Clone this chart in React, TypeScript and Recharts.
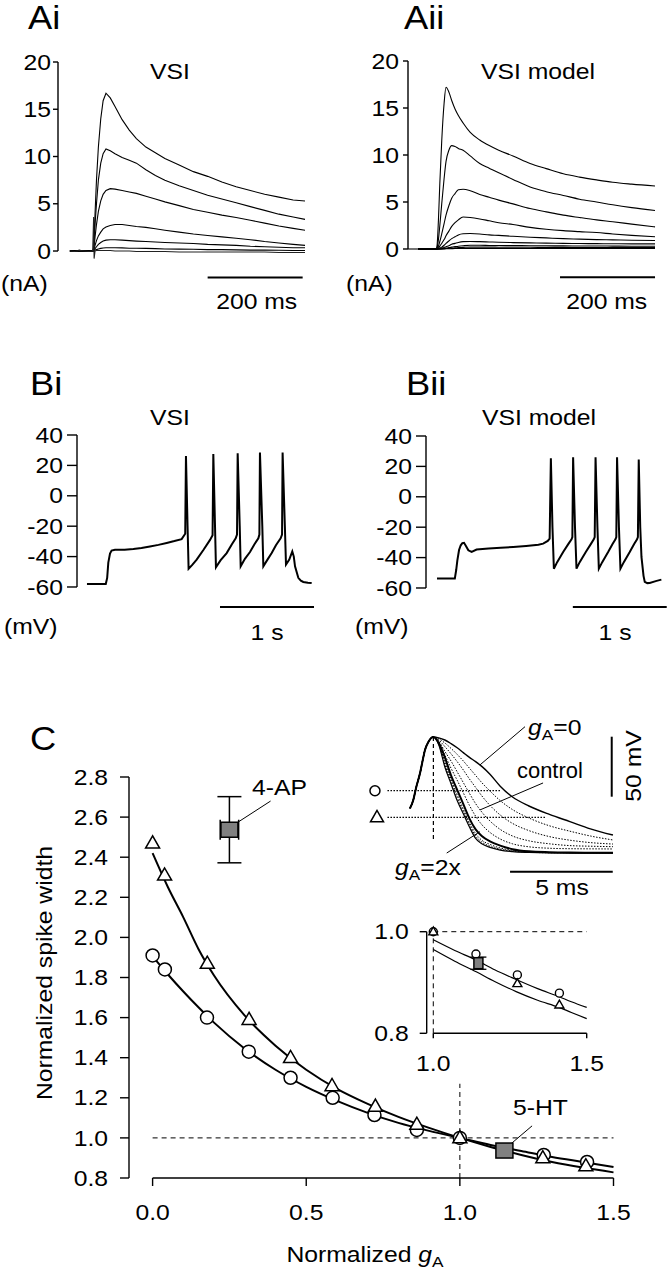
import React from 'react';
import { ComposedChart, Line, XAxis, YAxis, ReferenceLine, Scatter, ErrorBar } from 'recharts';

const FONT = '"Liberation Sans", Arial, Helvetica, sans-serif';
const K = '#000';
const FS = 21.5;
const SX = 1.15;

// ---------------- Panel Ai : VSI recorded currents (nA) vs time (ms)
const tAi = [0, 10, 20, 30, 40, 48, 50, 51, 53, 56, 60, 65, 70, 76, 85, 95, 110, 125, 140, 160, 180, 200, 230, 260, 290, 320, 350, 380, 410, 440, 470, 495];
const ai1 = [0.05, -0.05, 0.1, -0.05, 0.05, 0, 0.3, 1.5, 4, 7.5, 11, 14, 15.9, 16.7, 16.2, 15.3, 13.9, 12.8, 11.9, 11.0, 10.4, 9.8, 9.1, 8.4, 7.9, 7.3, 6.8, 6.4, 6.0, 5.7, 5.4, 5.3];
const ai2 = [0, 0.05, -0.05, 0.05, 0, -0.05, 0.2, 1, 2.8, 5, 7.5, 9.3, 10.3, 10.8, 10.6, 10.3, 9.9, 9.6, 9.3, 8.6, 8.0, 7.5, 6.9, 6.4, 5.9, 5.5, 5.1, 4.7, 4.3, 3.9, 3.6, 3.35];
const ai3 = [-0.05, 0.05, 0, -0.05, 0.05, 0, 0.1, 0.5, 1.5, 2.8, 4.2, 5.3, 6.0, 6.4, 6.6, 6.55, 6.4, 6.25, 6.1, 5.8, 5.5, 5.2, 4.8, 4.4, 4.1, 3.8, 3.55, 3.25, 2.95, 2.65, 2.4, 2.2];
const ai4 = [0.05, -0.05, 0.05, 0, -0.05, 0, 0, 0.2, 0.6, 1.1, 1.6, 2.0, 2.35, 2.55, 2.7, 2.8, 2.8, 2.7, 2.6, 2.5, 2.35, 2.2, 2.0, 1.8, 1.65, 1.5, 1.35, 1.2, 1.0, 0.85, 0.7, 0.6];
const ai5 = [0, 0.05, -0.05, 0.05, 0, 0, 0, 0.1, 0.25, 0.45, 0.7, 0.9, 1.05, 1.15, 1.2, 1.2, 1.15, 1.1, 1.05, 1.0, 0.95, 0.9, 0.85, 0.8, 0.7, 0.65, 0.6, 0.5, 0.45, 0.4, 0.35, 0.35];
const ai6 = [-0.05, 0, 0.05, -0.05, 0.05, 0, 0, 0.05, 0.1, 0.15, 0.22, 0.28, 0.32, 0.35, 0.35, 0.35, 0.33, 0.3, 0.3, 0.28, 0.25, 0.22, 0.2, 0.18, 0.15, 0.15, 0.12, 0.1, 0.1, 0.08, 0.05, 0.05];
const ai7 = [0, -0.05, 0.05, 0, -0.05, 0, 3.6, -0.8, 0, 0.05, 0.05, 0.05, 0.05, 0.05, 0.05, 0, 0, 0, -0.05, -0.05, -0.05, -0.05, -0.1, -0.1, -0.1, -0.1, -0.1, -0.1, -0.1, -0.15, -0.15, -0.15];
const aiTraces = [ai1, ai2, ai3, ai4, ai5, ai6, ai7];
const aTicks = [0, 5, 10, 15, 20];

// ---------------- Panel Aii : VSI model currents (nA) vs time (ms)
const tAii = [0, 20, 38, 40, 43, 46, 50, 55, 59, 65, 71, 78, 85, 95, 110, 130, 150, 170, 200, 236, 270, 306, 340, 376, 410, 450, 499];
const aii1 = [0, 0, 0, 0.3, 3, 7, 11.5, 15.5, 17.2, 16.7, 15.8, 14.9, 14.2, 13.4, 12.4, 11.6, 11.0, 10.5, 9.9, 9.1, 8.55, 8.0, 7.65, 7.35, 7.1, 6.9, 6.7];
const aii2 = [0, 0, 0, 0.1, 1, 2.5, 4.8, 7.5, 9.3, 10.5, 11.0, 10.9, 10.7, 10.5, 9.9, 9.1, 8.6, 8.1, 7.4, 6.6, 6.1, 5.7, 5.3, 5.0, 4.7, 4.4, 4.1];
const aii3 = [0, 0, 0, 0.05, 0.3, 0.8, 1.6, 2.7, 3.6, 4.6, 5.4, 5.9, 6.3, 6.35, 6.2, 5.8, 5.5, 5.2, 4.8, 4.3, 3.95, 3.6, 3.35, 3.1, 2.9, 2.65, 2.35];
const aii4 = [0, 0, 0, 0, 0.1, 0.3, 0.6, 1.0, 1.4, 1.9, 2.4, 2.8, 3.1, 3.4, 3.35, 3.2, 3.0, 2.8, 2.6, 2.3, 2.1, 1.95, 1.85, 1.75, 1.6, 1.45, 1.3];
const aii5 = [0, 0, 0, 0, 0.05, 0.1, 0.2, 0.4, 0.6, 0.85, 1.1, 1.3, 1.5, 1.62, 1.65, 1.6, 1.5, 1.45, 1.35, 1.25, 1.18, 1.1, 1.05, 1.0, 0.97, 0.93, 0.9];
const aii6 = [0, 0, 0, 0, 0, 0.05, 0.1, 0.15, 0.25, 0.35, 0.5, 0.6, 0.7, 0.78, 0.8, 0.78, 0.75, 0.72, 0.68, 0.65, 0.62, 0.6, 0.58, 0.57, 0.56, 0.55, 0.55];
const aii7 = [0, 0, 0, 0, 0, 0, 0.03, 0.07, 0.1, 0.15, 0.2, 0.25, 0.3, 0.35, 0.4, 0.4, 0.38, 0.37, 0.36, 0.35, 0.34, 0.33, 0.32, 0.32, 0.31, 0.3, 0.3];
const aii8 = [0, 0, 0, 0, 0, 0, 0.01, 0.03, 0.05, 0.07, 0.1, 0.12, 0.15, 0.17, 0.2, 0.2, 0.2, 0.19, 0.18, 0.18, 0.17, 0.17, 0.16, 0.16, 0.15, 0.15, 0.15];
const aii9 = [0, 0, 0, 0, 0, 0, 0, 0.01, 0.02, 0.03, 0.04, 0.05, 0.05, 0.06, 0.06, 0.06, 0.06, 0.06, 0.06, 0.05, 0.05, 0.05, 0.05, 0.05, 0.05, 0.05, 0.05];
const aiiTraces = [aii1, aii2, aii3, aii4, aii5, aii6, aii7, aii8, aii9];

// ---------------- Panel Bi : VSI membrane potential (mV) vs time (s)
const tBi = [0, 0.2, 0.215, 0.227, 0.245, 0.262, 0.298, 0.4, 0.493, 0.58, 0.67, 0.76, 0.848, 0.93, 1.007, 1.045, 1.053, 1.07, 1.081, 1.12, 1.167, 1.24, 1.309, 1.336, 1.344, 1.362, 1.372, 1.42, 1.486, 1.54, 1.582, 1.596, 1.603, 1.625, 1.635, 1.68, 1.734, 1.78, 1.823, 1.834, 1.84, 1.865, 1.876, 1.92, 1.965, 2.01, 2.06, 2.075, 2.081, 2.105, 2.117, 2.152, 2.184, 2.2, 2.213, 2.248, 2.275, 2.301, 2.35, 2.39];
const vBi = [-58, -58, -54, -44, -38, -36, -35.5, -35.5, -35, -34.3, -33.3, -32.3, -31, -29.8, -28.5, -25, 26.2, -20, -48, -45.5, -42, -35.5, -29, -26, 27.5, -20, -47, -42.5, -37.7, -32, -28, -25.5, 28, -20, -46.4, -41.5, -37, -32, -28, -25.5, 28.4, -20, -46.4, -42, -37.7, -32.5, -28, -25.5, 28.4, -20, -45.3, -42, -36.6, -40, -46.4, -54, -55.8, -56.7, -57.2, -57.4];

// ---------------- Panel Bii : VSI model membrane potential (mV) vs time (s)
const tBii = [0, 0.19, 0.205, 0.217, 0.235, 0.253, 0.27, 0.288, 0.31, 0.334, 0.369, 0.422, 0.55, 0.68, 0.812, 0.95, 1.08, 1.131, 1.18, 1.2, 1.213, 1.23, 1.245, 1.28, 1.344, 1.4, 1.433, 1.442, 1.45, 1.47, 1.486, 1.52, 1.585, 1.64, 1.67, 1.68, 1.689, 1.709, 1.724, 1.76, 1.823, 1.87, 1.901, 1.91, 1.918, 1.938, 1.954, 1.99, 2.053, 2.1, 2.131, 2.14, 2.149, 2.165, 2.178, 2.2, 2.213, 2.24, 2.266, 2.33, 2.39];
const vBii = [-53.8, -53.8, -48, -41.8, -35, -31.9, -30.5, -30.3, -32.5, -35.2, -36.3, -34.7, -34, -33.5, -33, -32.3, -31.5, -30.8, -29, -27.5, 25.3, -20, -47.3, -43, -36.3, -31, -28, -26.5, 26, -20, -47.3, -43, -36.3, -31, -28, -26.5, 26, -20, -47.3, -43, -36.3, -31, -28, -26.5, 26, -20, -47.3, -43, -36.3, -31, -28, -26.5, 24.6, -20, -39.6, -52, -56, -56.8, -56.7, -55.5, -54.5];
const bTicks = [-60, -40, -20, 0, 20, 40];

// ---------------- Panel C : normalized spike width vs normalized gA
const fitX = [0, 0.05, 0.1, 0.15, 0.2, 0.3, 0.4, 0.5, 0.6, 0.7, 0.8, 0.9, 1.0, 1.1, 1.2, 1.3, 1.4, 1.5];
const fitCirc = [1.905, 1.815, 1.73, 1.65, 1.575, 1.445, 1.34, 1.255, 1.185, 1.125, 1.075, 1.035, 1.0, 0.965, 0.935, 0.905, 0.88, 0.855];
const fitTri = [2.42, 2.25, 2.1, 1.94, 1.81, 1.61, 1.46, 1.34, 1.245, 1.17, 1.105, 1.05, 1.0, 0.955, 0.915, 0.88, 0.852, 0.828];
const circX = [0.0, 0.04, 0.177, 0.313, 0.449, 0.586, 0.722, 0.86, 1.0, 1.273, 1.414];
const circY = [1.91, 1.84, 1.60, 1.43, 1.30, 1.20, 1.114, 1.04, 1.0, 0.915, 0.88];
const triX = [0.0, 0.039, 0.178, 0.314, 0.449, 0.584, 0.725, 0.86, 1.0, 1.27, 1.41];
const triY = [2.47, 2.31, 1.87, 1.59, 1.40, 1.26, 1.157, 1.067, 1.0, 0.90, 0.86];
const drugNames = ['4-AP', '5-HT'];
const drugX = [0.25, 1.145];
const drugY = [2.537, 0.937];
const drugErrY = [0.165, 0];
const drugErrX = [0.03, 0];
const cTicksY = [0.8, 1.0, 1.2, 1.4, 1.6, 1.8, 2.0, 2.2, 2.4, 2.6, 2.8];
const cTicksX = [0, 0.5, 1.0, 1.5];

// ---------------- Inset: model spike waveforms (mV vs ms)
const tW = [0, 0.16, 0.3, 0.49, 0.6, 0.73, 0.9, 1.14, 1.4, 1.7, 2.0, 2.3, 2.6, 2.9, 3.2, 3.5, 3.9, 4.4, 5.0, 5.8, 6.8, 7.8, 8.8, 9.9];
const wRise = [-34.4, -27.5, -17, -5, 4, 14.2, 21, 25];
const wG0 = [24.3, 22.5, 19.5, 16, 12, 8, 4.5, 0.5, -6, -16, -25, -32.5, -39.5, -45.5, -51.5, -56.7];
const wD1 = [23.5, 20, 15.5, 10.5, 5, -1, -7, -13, -20, -28, -35.5, -42.5, -49, -53.5, -57.5, -60.8];
const wD2 = [22.5, 17, 11, 4.5, -2.5, -10, -17, -24, -32, -40, -47, -53, -58, -61, -63, -64.2];
const wD3 = [21.5, 13, 5, -4, -13, -22, -30.5, -37.5, -45, -52, -57.5, -61.5, -64, -65.5, -66, -66.4];
const wD4 = [21, 10, -1, -11, -21.5, -32, -41, -48, -54.5, -60, -64, -66.5, -67.7, -68.1, -68.2, -68.3];
const wCtrl = [20, 8, -7, -19, -31, -43, -52, -57.5, -62, -65.5, -68.5, -70.3, -71, -71.3, -71.4, -71.5];
const wD5 = [19.5, 4, -10, -23, -35, -46.5, -55.5, -61, -64.5, -67.5, -69.5, -70.8, -71.3, -71.5, -71.6, -71.7];
const wD6 = [19, 2, -12, -25.5, -37, -48, -57.5, -62.5, -66, -68.5, -70, -71, -71.5, -71.6, -71.7, -71.8];
const wG2 = [18.5, 0, -14, -28, -39, -50, -59.5, -64, -67, -69.2, -70.5, -71.2, -71.6, -71.7, -71.8, -71.8];
const wDotted = [wD1, wD2, wD3, wD4, wD5, wD6];
const wThreshV = [-19.75, -41.9];
const wThreshEnd = [4.4, 6.6];

// ---------------- Inset: zoom of panel C near gA = 1
const zFitX = [1.0, 1.07, 1.14, 1.2, 1.27, 1.34, 1.41, 1.45, 1.5];
const zFitUpper = [0.984, 0.963, 0.944, 0.925, 0.906, 0.888, 0.872, 0.862, 0.851];
const zFitLower = [0.965, 0.942, 0.921, 0.902, 0.882, 0.865, 0.851, 0.841, 0.829];
const zCircX = [1.0, 1.139, 1.274, 1.411];
const zCircY = [1.0, 0.956, 0.915, 0.879];
const zTriX = [1.0, 1.274, 1.411];
const zTriY = [1.0, 0.898, 0.856];
const zSqX = [1.147];
const zSqY = [0.938];
const zSqErr = [0.012];

const rows = (xs: number[], ys: number[]) => xs.map((x, i) => ({ x, y: ys[i] }));
const tickLineStyle = { stroke: K, strokeWidth: 1.4 };
const fmt0 = (v: number) => String(v);
const fmt1 = (v: number) => v.toFixed(1);

const mkTick = (fmt: (v: number) => string, vert: 'middle' | 'top') => (p: any) => (
  <g transform={`translate(${p.x},${p.y})`}>
    <text
      transform={`scale(${SX},1)`}
      textAnchor={p.textAnchor}
      dy={vert === 'middle' ? '0.355em' : '0.71em'}
      fontSize={FS}
      fontFamily={FONT}
      fill={K}
    >
      {fmt(p.payload.value)}
    </text>
  </g>
);

const circleShape = (r: number, sw: number) => (p: any) => (
  <circle cx={p.cx} cy={p.cy} r={r} fill="#fff" stroke={K} strokeWidth={sw} />
);
const triShape = (s: number, sw: number) => (p: any) => {
  const h = s * 0.87;
  return (
    <polygon
      points={`${p.cx},${p.cy - h * 0.6} ${p.cx - s / 2},${p.cy + h * 0.4} ${p.cx + s / 2},${p.cy + h * 0.4}`}
      fill="#fff"
      stroke={K}
      strokeWidth={sw}
    />
  );
};
const squareShape = (w: number, h: number) => (p: any) => (
  <rect x={p.cx - w / 2} y={p.cy - h / 2} width={w} height={h} fill="#808080" stroke={K} strokeWidth={1.5} />
);

const abs = (left: number, top: number): React.CSSProperties => ({ position: 'absolute', left, top });

function PanelAi() {
  return (
    <div style={abs(0, 0)}>
      <ComposedChart width={320} height={320} margin={{ top: 62, right: 12.6, bottom: 35.9, left: 0 }}>
        <XAxis type="number" dataKey="x" domain={[-25, 500]} hide />
        <YAxis type="number" domain={[-3.5, 20]} ticks={aTicks} interval={0} width={58} tickSize={5} tickMargin={2} axisLine={false} tick={mkTick(fmt0, 'middle')} tickLine={tickLineStyle} />
        <ReferenceLine segment={[{ x: -25, y: 0 }, { x: -25, y: 20 }]} stroke={K} strokeWidth={1.4} />
        <ReferenceLine segment={[{ x: 290, y: -2.8 }, { x: 490, y: -2.8 }]} stroke={K} strokeWidth={2} />
        {aiTraces.map((tr, i) => (
          <Line key={i} data={rows(tAi, tr)} dataKey="y" type="linear" stroke={i === 6 ? '#222' : K} strokeWidth={1.1} dot={false} activeDot={false} isAnimationActive={false} />
        ))}
      </ComposedChart>
    </div>
  );
}

function PanelAii() {
  return (
    <div style={abs(350, 0)}>
      <ComposedChart width={317} height={320} margin={{ top: 61, right: 11.5, bottom: 38.1, left: 0 }}>
        <XAxis type="number" dataKey="x" domain={[-21, 500]} hide />
        <YAxis type="number" domain={[-3.5, 20]} ticks={aTicks} interval={0} width={58} tickSize={5} tickMargin={4} axisLine={false} tick={mkTick(fmt0, 'middle')} tickLine={tickLineStyle} />
        <ReferenceLine segment={[{ x: -21, y: 0 }, { x: -21, y: 20 }]} stroke={K} strokeWidth={1.4} />
        <ReferenceLine segment={[{ x: 299, y: -3 }, { x: 499, y: -3 }]} stroke={K} strokeWidth={2} />
        <Line data={rows([-21, 0], [0, 0])} dataKey="y" type="linear" stroke={K} strokeWidth={1.1} dot={false} activeDot={false} isAnimationActive={false} />
        {aiiTraces.map((tr, i) => (
          <Line key={i} data={rows(tAii, tr)} dataKey="y" type="monotone" stroke={K} strokeWidth={1.1} dot={false} activeDot={false} isAnimationActive={false} />
        ))}
      </ComposedChart>
    </div>
  );
}

function PanelB(props: { left: number; yw: number; mr: number; mt: number; mb: number; xmin: number; bar: [number, number]; barY: number; t: number[]; v: number[] }) {
  const { left, yw, mr, mt, mb, xmin, bar, barY, t, v } = props;
  return (
    <div style={abs(left, 330)}>
      <ComposedChart width={left === 0 ? 330 : 337} height={320} margin={{ top: mt, right: mr, bottom: mb, left: 0 }}>
        <XAxis type="number" dataKey="x" domain={[xmin, 2.45]} hide />
        <YAxis type="number" domain={[-76, 40]} ticks={bTicks} interval={0} width={yw} tickSize={10} tickMargin={4} axisLine={false} tick={mkTick(fmt0, 'middle')} tickLine={tickLineStyle} />
        <ReferenceLine segment={[{ x: xmin, y: -60 }, { x: xmin, y: 40 }]} stroke={K} strokeWidth={1.4} />
        <ReferenceLine segment={[{ x: bar[0], y: barY }, { x: bar[1], y: barY }]} stroke={K} strokeWidth={2} />
        <Line data={rows(t, v)} dataKey="y" type="linear" stroke={K} strokeWidth={2} dot={false} activeDot={false} isAnimationActive={false} />
      </ComposedChart>
    </div>
  );
}

function PanelC() {
  const xmin = -0.0768;
  return (
    <div style={abs(0, 700)}>
      <ComposedChart width={640} height={560} margin={{ top: 77, right: 26.5, bottom: 42, left: 0 }}>
        <XAxis type="number" dataKey="x" domain={[xmin, 1.5]} ticks={cTicksX} interval={0} height={40} tickSize={8} tickMargin={19} axisLine={false} tick={mkTick(fmt1, 'top')} tickLine={tickLineStyle} />
        <YAxis type="number" domain={[0.8, 2.8]} ticks={cTicksY} interval={0} width={129} tickSize={9} tickMargin={12} axisLine={{ stroke: K, strokeWidth: 1.4 }} tick={mkTick(fmt1, 'middle')} tickLine={tickLineStyle} />
        <ReferenceLine segment={[{ x: 0, y: 0.8 }, { x: 1.5, y: 0.8 }]} stroke={K} strokeWidth={1.4} />
        <ReferenceLine segment={[{ x: 0, y: 1.0 }, { x: 1.5, y: 1.0 }]} stroke={K} strokeWidth={1} strokeDasharray="5 4" />
        <ReferenceLine segment={[{ x: 1.0, y: 0.8 }, { x: 1.0, y: 1.27 }]} stroke={K} strokeWidth={1} strokeDasharray="5 4" />
        <ReferenceLine segment={[{ x: 0.263, y: 2.56 }, { x: 0.384, y: 2.68 }]} stroke={K} strokeWidth={1} />
        <ReferenceLine segment={[{ x: 1.166, y: 0.97 }, { x: 1.235, y: 1.06 }]} stroke={K} strokeWidth={1} />
        <Line data={rows(fitX, fitTri)} dataKey="y" type="monotone" stroke={K} strokeWidth={2} dot={false} activeDot={false} isAnimationActive={false} />
        <Line data={rows(fitX, fitCirc)} dataKey="y" type="monotone" stroke={K} strokeWidth={2} dot={false} activeDot={false} isAnimationActive={false} />
        <Scatter data={rows(circX, circY)} dataKey="y" shape={circleShape(6.5, 1.5)} isAnimationActive={false} />
        <Scatter data={rows(triX, triY)} dataKey="y" shape={triShape(14, 1.5)} isAnimationActive={false} />
        <Scatter data={drugX.map((x, i) => ({ x, y: drugY[i], e: drugErrY[i], ex: drugErrX[i], name: drugNames[i] }))} dataKey="y" shape={squareShape(17, 15)} isAnimationActive={false}>
          <ErrorBar dataKey="e" direction="y" width={12} stroke={K} strokeWidth={1.5} />
          <ErrorBar dataKey="ex" direction="x" width={10} stroke={K} strokeWidth={1.5} />
        </Scatter>
      </ComposedChart>
    </div>
  );
}

function InsetWave() {
  const full = (d: number[]) => rows(tW, [...wRise, ...d]);
  return (
    <div style={abs(360, 700)}>
      <ComposedChart width={307} height={200} margin={{ top: 0, right: 0.75, bottom: 0, left: 0 }}>
        <XAxis type="number" dataKey="x" domain={[-2.44, 12.5]} hide />
        <YAxis type="number" domain={[-110.83, 55.83]} hide />
        {wThreshV.map((v, i) => (
          <ReferenceLine key={'th' + i} segment={[{ x: -1.1, y: v }, { x: wThreshEnd[i], y: v }]} stroke={K} strokeWidth={1.2} strokeDasharray="1.5 1.5" />
        ))}
        <ReferenceLine segment={[{ x: 1.14, y: 25 }, { x: 1.14, y: -60.8 }]} stroke={K} strokeWidth={1.2} strokeDasharray="4 3" />
        <ReferenceLine segment={[{ x: 9.84, y: 25.25 }, { x: 9.84, y: -24.75 }]} stroke={K} strokeWidth={2} />
        <ReferenceLine segment={[{ x: 4.88, y: -87.25 }, { x: 9.89, y: -87.25 }]} stroke={K} strokeWidth={2} />
        <ReferenceLine segment={[{ x: 5.61, y: 33.6 }, { x: 3.41, y: 1.7 }]} stroke={K} strokeWidth={1} />
        <ReferenceLine segment={[{ x: 6.49, y: -13.3 }, { x: 3.41, y: -35.8 }]} stroke={K} strokeWidth={1} />
        <ReferenceLine segment={[{ x: 1.79, y: -71.7 }, { x: 3.41, y: -53.9 }]} stroke={K} strokeWidth={1} />
        {wDotted.map((d, i) => (
          <Line key={'d' + i} data={full(d)} dataKey="y" type="monotone" stroke={K} strokeWidth={1} strokeDasharray="1.5 1.5" dot={false} activeDot={false} isAnimationActive={false} />
        ))}
        <Line data={full(wG0)} dataKey="y" type="monotone" stroke={K} strokeWidth={1.4} dot={false} activeDot={false} isAnimationActive={false} />
        <Line data={full(wG2)} dataKey="y" type="monotone" stroke={K} strokeWidth={1.2} dot={false} activeDot={false} isAnimationActive={false} />
        <Line data={full(wCtrl)} dataKey="y" type="monotone" stroke={K} strokeWidth={2} dot={false} activeDot={false} isAnimationActive={false} />
        <Scatter data={[{ x: -1.71, y: wThreshV[0] }]} dataKey="y" shape={circleShape(5, 1.5)} isAnimationActive={false} />
        <Scatter data={[{ x: -1.61, y: wThreshV[1] }]} dataKey="y" shape={triShape(13, 1.5)} isAnimationActive={false} />
      </ComposedChart>
    </div>
  );
}

function InsetZoom() {
  return (
    <div style={abs(330, 900)}>
      <ComposedChart width={305} height={180} margin={{ top: 31.7, right: 48.3, bottom: 6.7, left: 0 }}>
        <XAxis type="number" dataKey="x" domain={[0.9785, 1.5]} ticks={[1.0, 1.5]} interval={0} height={40} tickSize={5} tickMargin={17} axisLine={false} tick={mkTick(fmt1, 'top')} tickLine={tickLineStyle} />
        <YAxis type="number" domain={[0.8, 1.0]} ticks={[0.8, 1.0]} interval={0} width={96.7} tickSize={7} tickMargin={11} axisLine={{ stroke: K, strokeWidth: 1.4 }} tick={mkTick(fmt1, 'middle')} tickLine={tickLineStyle} />
        <ReferenceLine segment={[{ x: 1.0, y: 0.8 }, { x: 1.5, y: 0.8 }]} stroke={K} strokeWidth={1.4} />
        <ReferenceLine segment={[{ x: 1.0, y: 1.0 }, { x: 1.5, y: 1.0 }]} stroke={K} strokeWidth={1} strokeDasharray="5 4" />
        <ReferenceLine segment={[{ x: 1.0, y: 0.8 }, { x: 1.0, y: 1.0 }]} stroke={K} strokeWidth={1} strokeDasharray="5 4" />
        <Line data={rows(zFitX, zFitUpper)} dataKey="y" type="monotone" stroke={K} strokeWidth={1.2} dot={false} activeDot={false} isAnimationActive={false} />
        <Line data={rows(zFitX, zFitLower)} dataKey="y" type="monotone" stroke={K} strokeWidth={1.2} dot={false} activeDot={false} isAnimationActive={false} />
        <Scatter data={rows(zCircX, zCircY)} dataKey="y" shape={circleShape(4, 1.4)} isAnimationActive={false} />
        <Scatter data={rows(zTriX, zTriY)} dataKey="y" shape={triShape(9, 1.4)} isAnimationActive={false} />
        <Scatter data={zSqX.map((x, i) => ({ x, y: zSqY[i], e: zSqErr[i] }))} dataKey="y" shape={squareShape(9, 11)} isAnimationActive={false}>
          <ErrorBar dataKey="e" direction="y" width={8} stroke={K} strokeWidth={1.3} />
        </Scatter>
      </ComposedChart>
    </div>
  );
}

function Txt(props: { x: number; y: number; size?: number; sx?: number; anchor?: string; rot?: boolean; children: React.ReactNode }) {
  const { x, y, size = FS, sx = SX, anchor = 'start', rot = false, children } = props;
  const tf = `translate(${x},${y})${rot ? ' rotate(-90)' : ''} scale(${sx},1)`;
  return (
    <text transform={tf} fontSize={size} textAnchor={anchor} dy={rot ? '0.35em' : undefined}>
      {children}
    </text>
  );
}

function GA(props: { x: number; y: number; anchor?: string; pre?: string; rest: string }) {
  return (
    <Txt x={props.x} y={props.y} anchor={props.anchor}>
      {props.pre ? <tspan>{props.pre}</tspan> : null}
      <tspan fontStyle="italic">g</tspan>
      <tspan fontSize={15} dy={5}>A</tspan>
      <tspan dy={-5}>{props.rest}</tspan>
    </Txt>
  );
}

function Labels() {
  return (
    <svg width={667} height={1280} style={{ position: 'absolute', left: 0, top: 0, pointerEvents: 'none' }} fontFamily={FONT} fill={K}>
      <Txt x={28} y={29} size={33} sx={1.1}>Ai</Txt>
      <Txt x={404} y={29} size={33} sx={1.1}>Aii</Txt>
      <Txt x={170} y={79} anchor="middle">VSI</Txt>
      <Txt x={538} y={79} anchor="middle">VSI model</Txt>
      <Txt x={1} y={291}>(nA)</Txt>
      <Txt x={346} y={291}>(nA)</Txt>
      <Txt x={256.7} y={309} anchor="middle">200 ms</Txt>
      <Txt x={606.7} y={309} anchor="middle">200 ms</Txt>

      <Txt x={30} y={395} size={33} sx={1.1}>Bi</Txt>
      <Txt x={406} y={395} size={33} sx={1.1}>Bii</Txt>
      <Txt x={170} y={425} anchor="middle">VSI</Txt>
      <Txt x={539} y={425} anchor="middle">VSI model</Txt>
      <Txt x={4} y={634}>(mV)</Txt>
      <Txt x={355} y={634}>(mV)</Txt>
      <Txt x={267} y={640} anchor="middle">1 s</Txt>
      <Txt x={615} y={640} anchor="middle">1 s</Txt>

      <Txt x={30} y={750} size={33} sx={1.1}>C</Txt>
      <Txt x={252} y={795}>{drugNames[0]}</Txt>
      <Txt x={513} y={1115}>{drugNames[1]}</Txt>
      <Txt x={44} y={973} anchor="middle" rot>Normalized spike width</Txt>
      <GA x={365} y={1262} anchor="middle" pre="Normalized " rest="" />
      <GA x={528} y={735} rest="=0" />
      <Txt x={517} y={778} sx={1.02}>control</Txt>
      <GA x={395} y={875} rest="=2x" />
      <Txt x={562} y={895} anchor="middle">5 ms</Txt>
      <Txt x={633} y={766} anchor="middle" rot>50 mV</Txt>
    </svg>
  );
}

export default function App() {
  return (
    <div style={{ position: 'absolute', left: 0, top: 0, width: 667, height: 1280, background: '#fff', fontFamily: FONT }}>
      <PanelAi />
      <PanelAii />
      <PanelB left={0} yw={77} mr={12.7} mt={105} mb={38.7} xmin={-0.106} bar={[1.415, 2.415]} barY={-73.2} t={tBi} v={vBi} />
      <PanelB left={330} yw={96} mr={0} mt={106} mb={37.7} xmin={-0.117} bar={[1.447, 2.447]} barY={-72.5} t={tBii} v={vBii} />
      <PanelC />
      <InsetWave />
      <InsetZoom />
      <Labels />
    </div>
  );
}
